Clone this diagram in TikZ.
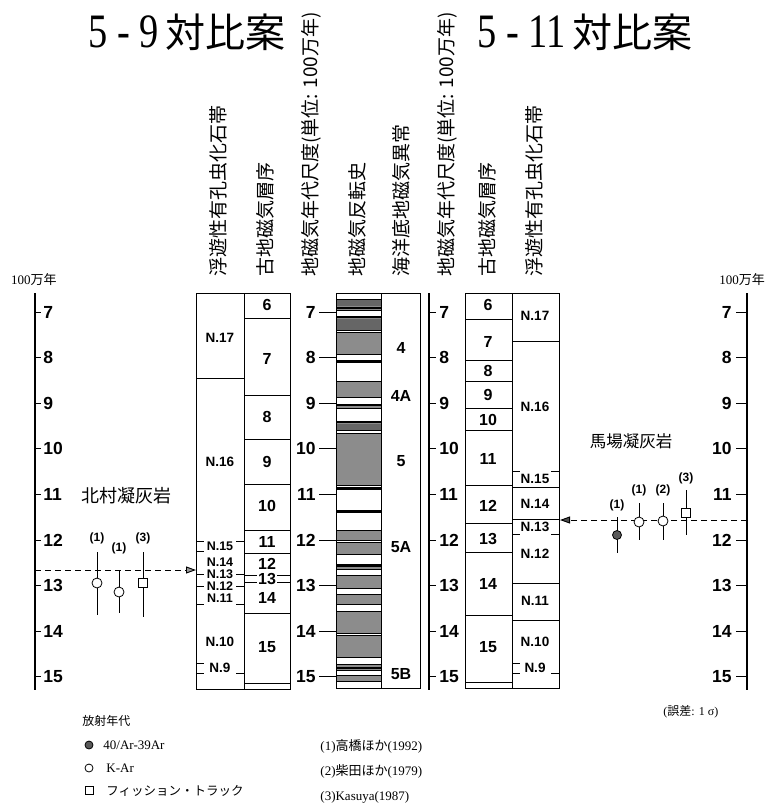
\documentclass[tikz,border=0pt]{standalone}
\usepackage{fontspec}
\setmainfont{Liberation Serif}
\setsansfont{Liberation Sans}
\newfontfamily\cjk{Noto Sans CJK JP}
\usetikzlibrary{arrows.meta}
\begin{document}
\begin{tikzpicture}[x=1pt,y=-1pt,line width=0.9pt,
  hdr/.style={font=\cjk\fontsize{19}{19}\selectfont,rotate=90,anchor=west,inner sep=0pt},
  sclab/.style={font=\sffamily\bfseries\fontsize{17.5}{17.5}\selectfont,inner sep=0pt},
  pm/.style={font=\sffamily\bfseries\fontsize{16}{16}\selectfont,inner sep=0.8pt,fill=white},
  fz/.style={font=\sffamily\bfseries\fontsize{13.5}{13.5}\selectfont,inner sep=0.3pt},
  fzs/.style={font=\sffamily\bfseries\fontsize{12.5}{12.5}\selectfont,inner sep=0.2pt},
  an/.style={font=\sffamily\bfseries\fontsize{16}{16}\selectfont,inner sep=0pt},
  reflab/.style={font=\sffamily\bfseries\fontsize{12}{12}\selectfont,inner sep=0pt},
  ocirc/.style={circle,draw,fill=white,minimum size=10pt,inner sep=0pt,line width=0.8pt},
  fcirc/.style={circle,draw,fill=black!65,minimum size=9pt,inner sep=0pt,line width=0.8pt},
  osq/.style={rectangle,draw,fill=white,minimum size=9pt,inner sep=0pt,line width=0.8pt},
  colbox/.style={draw,anchor=north west,inner sep=0pt,line width=1pt},
  dasharrow/.style={dash pattern=on 6pt off 4pt,line width=0.9pt},
  band/.style={draw,fill=white,line width=0.5pt},
  legtxt/.style={font=\fontsize{13}{13}\selectfont,anchor=west,inner sep=0pt},
  tuff/.style={font=\cjk\fontsize{18}{18}\selectfont,inner sep=0pt},
]
\useasboundingbox (0,0) rectangle (768,812);

% titles
\node[inner sep=0pt] (t1) at (187,32) {\scalebox{0.8}[1]{\fontsize{48}{48}\selectfont 5 - 9}\hspace{7pt}{\cjk\fontsize{40}{40}\selectfont 対比案}};
\node[inner sep=0pt] (t2) at (585,32) {\scalebox{0.8}[1]{\fontsize{48}{48}\selectfont 5 - 11}\hspace{7pt}{\cjk\fontsize{40}{40}\selectfont 対比案}};

% headers
\node[hdr] (h1) at (218,277) {浮遊性有孔虫化石帯};
\node[hdr] (h2) at (265,277) {古地磁気層序};
\node[hdr] (h3) at (311,277) {地磁気年代尺度(単位: 100万年)};
\node[hdr] (h4) at (357,277) {地磁気反転史};
\node[hdr] (h5) at (401,277) {海洋底地磁気異常};
\node[hdr] (h6) at (447,277) {地磁気年代尺度(単位: 100万年)};
\node[hdr] (h7) at (487,277) {古地磁気層序};
\node[hdr] (h8) at (534,277) {浮遊性有孔虫化石帯};

% unit labels
\node[inner sep=0pt] (u1) at (34,280) {\fontsize{13}{13}\selectfont 100{\cjk 万年}};
\node[inner sep=0pt] (u2) at (742,280) {\fontsize{13}{13}\selectfont 100{\cjk 万年}};

% reversal history stripes
\fill[black!45] (336,293) rectangle (381,688);
\foreach \a/\b in {299/306,319/330,424/430}
  \fill[black!60] (336,\a) rectangle (381,\b);
\foreach \a/\b in {293/299,310/316,330/332,354/360,362/381,397/404,408/421,430/433,485/487,489/510,512/530,540/542,554/564,569/575,588/594,604/611,633/635,657/664,670/675,681/688}
  \draw[band] (336,\a) rectangle (381,\b);
\foreach \yy in {308,317,361,405.5,422,488,511,566,668}
  \draw[line width=1.3pt] (336,\yy) -- (381,\yy);

% boxes
\node[colbox,minimum width=94pt,minimum height=396pt] (lbox) at (196,293) {};
\node[colbox,minimum width=84pt,minimum height=395pt] (mbox) at (336,293) {};
\node[colbox,minimum width=94pt,minimum height=395pt] (rbox) at (465,293) {};
\draw (244,293) -- (244,689);
\draw (381,293) -- (381,688);
\draw (512,293) -- (512,688);

% left paleomag lines
\foreach \yy in {318,395,439,484,530,553,575,582,613,683}
  \draw (244,\yy) -- (290,\yy);
% left foram lines
\draw (196,378) -- (244,378);
\foreach \yy in {541,574,586,604,673} {
  \draw (196,\yy) -- (204,\yy);
  \draw (236,\yy) -- (244,\yy);
}
\draw (196,551) -- (204,551);
\draw (196,663) -- (204,663);

% right paleomag lines
\foreach \yy in {319,360,381,408,430,485,523,552,615,682}
  \draw (465,\yy) -- (512,\yy);
% right foram lines
\foreach \yy in {341,487,519,583,620}
  \draw (512,\yy) -- (559,\yy);
\foreach \yy in {471,534,673} {
  \draw (512,\yy) -- (520,\yy);
  \draw (551,\yy) -- (559,\yy);
}
\draw (512,663) -- (520,663);

% left paleomag labels
\foreach \t/\yy in {6/305,7/359,8/417,9/462,10/506,11/542,12/564,13/579,14/598,15/647}
  \node[pm] (lp\t) at (267,\yy) {\t};
% left foram labels
\foreach \n/\yy in {17/338,16/462,10/642,9/668}
  \node[fz] (lf\n) at (220,\yy) {N.\n};
\foreach \n/\yy in {15/546,14/562,13/574,12/586,11/598}
  \node[fzs] (lf\n) at (220,\yy) {N.\n};
% right paleomag labels
\foreach \t/\yy in {6/305,7/342,8/371,9/395,10/420,11/459,12/506,13/539,14/584,15/647}
  \node[pm] (rp\t) at (488,\yy) {\t};
% right foram labels
\foreach \n/\yy in {17/316,16/407,15/479,14/504,13/527,12/554,11/601,10/642,9/668}
  \node[fz] (rf\n) at (535,\yy) {N.\n};
% anomaly labels
\node[an] (a4) at (401,348) {4};
\node[an] (a4A) at (401,396) {4A};
\node[an] (a5) at (401,461) {5};
\node[an] (a5A) at (401,547) {5A};
\node[an] (a5B) at (401,674) {5B};

% scales
\draw[line width=1.3pt] (35,293) -- (35,690);
\draw[line width=1.1pt] (429,293) -- (429,690);
\draw[line width=1.3pt] (747,293) -- (747,690);
\foreach \t in {7,...,15} {
  \pgfmathsetmacro\yy{312+(\t-7)*45.6}
  \draw (35,\yy) -- (41,\yy);
  \node[sclab,anchor=west] (ls\t) at (43,\yy) {\t};
  \draw (319,\yy) -- (336,\yy);
  \node[sclab,anchor=east] (ml\t) at (316,\yy) {\t};
  \draw (429,\yy) -- (436,\yy);
  \node[sclab,anchor=west] (mr\t) at (439,\yy) {\t};
  \draw (736,\yy) -- (747,\yy);
  \node[sclab,anchor=east] (rs\t) at (732,\yy) {\t};
}

% tuff names
\node[tuff] (kita) at (126,496) {北村凝灰岩};
\node[tuff,font=\cjk\fontsize{16.5}{16.5}\selectfont] (baba) at (631,441) {馬場凝灰岩};

% dashed arrows
\coordinate (la) at (35,570);
\draw[dasharrow,-{Triangle[length=10pt,width=7pt,fill=black!40]}] (la) -- (la -| lbox.west);
\coordinate (ra) at (747,520);
\draw[dasharrow,-{Triangle[length=10pt,width=7pt,fill=black!70]}] (ra) -- (ra -| rbox.east);

% left dates
\draw (97,552) -- (97,615);
\node[ocirc] (p1) at (97,583) {};
\node[reflab] (p1l) at (97,538) {(1)};
\draw (119,570) -- (119,613);
\node[ocirc] (p2) at (119,592) {};
\node[reflab] (p2l) at (119,548) {(1)};
\draw (143,552) -- (143,617);
\node[osq] (p3) at (143,583) {};
\node[reflab] (p3l) at (143,538) {(3)};

% right dates
\draw (617,517) -- (617,553);
\node[fcirc] (q1) at (617,535) {};
\node[reflab] (q1l) at (617,505) {(1)};
\draw (639,503) -- (639,540);
\node[ocirc] (q2) at (639,522) {};
\node[reflab] (q2l) at (639,490) {(1)};
\draw (663,503) -- (663,540);
\node[ocirc] (q3) at (663,521) {};
\node[reflab] (q3l) at (663,490) {(2)};
\draw (686,490) -- (686,535);
\node[osq] (q4) at (686,513) {};
\node[reflab] (q4l) at (686,478) {(3)};

% legend
\node[legtxt,font=\cjk\fontsize{12}{12}\selectfont] (lg0) at (82,721) {放射年代};
\node[fcirc,minimum size=8pt] (lgm1) at (89,745) {};
\node[legtxt] (lg1) at (103,745) {40/Ar-39Ar};
\node[ocirc,minimum size=8pt] (lgm2) at (89,768) {};
\node[legtxt] (lg2) at (106,768) {K-Ar};
\node[osq,minimum size=8pt] (lgm3) at (89,790) {};
\node[legtxt,font=\cjk\fontsize{12.5}{12.5}\selectfont] (lg3) at (106,791) {フィッション・トラック};
\node[legtxt] (r1) at (320,746) {(1){\cjk 高橋ほか}(1992)};
\node[legtxt] (r2) at (320,771) {(2){\cjk 柴田ほか}(1979)};
\node[legtxt] (r3) at (320,797) {(3)Kasuya(1987)};
\node[legtxt,font=\fontsize{12}{12}\selectfont] (err) at (663,712) {({\cjk 誤差}: 1 σ)};
\end{tikzpicture}
\end{document}
